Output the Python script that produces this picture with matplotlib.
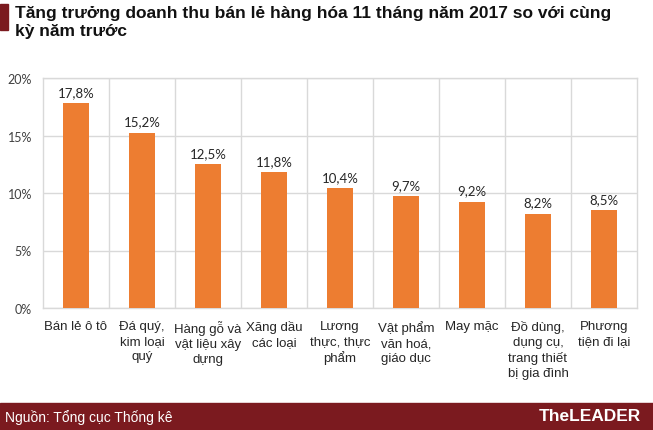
import matplotlib
matplotlib.use("Agg")
import matplotlib.pyplot as plt
from matplotlib.patches import Rectangle

# Data
categories = [
    "Bán lẻ ô tô",
    "Đá quý,\nkim loại\nquý",
    "Hàng gỗ và\nvật liệu xây\ndựng",
    "Xăng dầu\ncác loại",
    "Lương\nthực, thực\nphẩm",
    "Vật phẩm\nvăn hoá,\ngiáo dục",
    "May mặc",
    "Đồ dùng,\ndụng cụ,\ntrang thiết\nbị gia đình",
    "Phương\ntiện đi lại",
]
growth = [17.8, 15.2, 12.5, 11.8, 10.4, 9.7, 9.2, 8.2, 8.5]
y_ticks = [0, 5, 10, 15, 20]

title_text = "Tăng trưởng doanh thu bán lẻ hàng hóa 11 tháng năm 2017 so với cùng\nkỳ năm trước"
source_text = "Nguồn: Tổng cục Thống kê"
brand_text = "TheLEADER"

narrow = ["Liberation Sans Narrow", "Liberation Sans", "DejaVu Sans"]
calibri_like = ["Lato", "DejaVu Sans"]
bar_color = "#ED7D31"
dark_red = "#7B1A1F"
grid_color = "#D9D9D9"

fig = plt.figure(figsize=(6.53, 4.31), dpi=100)
W, H = 653, 431

ax = fig.add_axes([43 / W, 1 - 309 / H, (637 - 43) / W, (309 - 79) / H])
x = list(range(len(categories)))
ax.bar(x, growth, width=0.4, color=bar_color, zorder=3)
ax.set_xlim(-0.5, len(categories) - 0.5)
ax.set_ylim(0, 20)
ax.set_yticks(y_ticks)
ax.set_yticklabels([f"{t}%" for t in y_ticks], family=calibri_like, fontsize=9, color="#404040")
ax.set_xticks(x)
ax.set_xticklabels(categories, family=narrow, fontsize=9.5, color="#262626", linespacing=1.3)
ax.set_xticks([i + 0.5 for i in x[:-1]], minor=True)
ax.tick_params(axis="both", which="both", length=0)
ax.tick_params(axis="x", pad=9)
ax.tick_params(axis="y", pad=8)
ax.grid(axis="y", color=grid_color, linewidth=1, zorder=0)
ax.grid(axis="x", which="minor", color=grid_color, linewidth=1, zorder=0)
for side in ["top", "right", "left", "bottom"]:
    ax.spines[side].set_color(grid_color)
    ax.spines[side].set_linewidth(1)

for xi, v in zip(x, growth):
    ax.annotate(f"{v:.1f}%".replace(".", ","), (xi, v), xytext=(0, 4),
                textcoords="offset points", ha="center", va="bottom",
                family=calibri_like, fontsize=9.5, color="#262626")

# Title with red marker
fig.patches.append(Rectangle((0, 1 - 31 / H), 8 / W, 26 / H, transform=fig.transFigure,
                             color=dark_red, zorder=5))
fig.text(15 / W, 1 - 6 / H, title_text, family=narrow, fontsize=12.5, fontweight="bold",
         color="#111111", va="top", ha="left", linespacing=1.25)

# Footer band
fig.patches.append(Rectangle((0, 0), 1, 27 / H, transform=fig.transFigure,
                             color=dark_red, zorder=5))
fig.text(5 / W, 13 / H, source_text, family=narrow, fontsize=10, color="white",
         va="center", ha="left", zorder=6)
fig.text(641 / W, 14 / H, brand_text, family=narrow, fontsize=12.5, fontweight="bold",
         color="white", va="center", ha="right", zorder=6)

fig.savefig("out.png", dpi=100)
